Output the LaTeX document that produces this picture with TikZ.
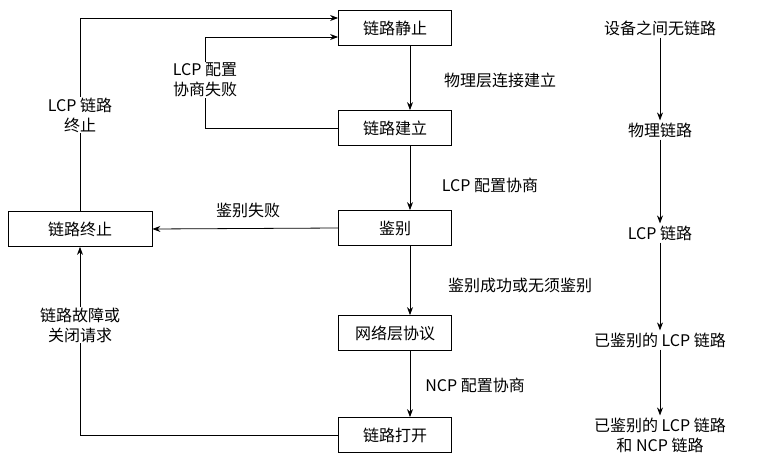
\documentclass[tikz,border=0pt]{standalone}
\usepackage{fontspec}
\setmainfont{Noto Sans CJK SC}
\usetikzlibrary{arrows.meta}
\begin{document}
\begin{tikzpicture}[x=1pt,y=-1pt,font=\fontsize{16}{20}\selectfont,
 box/.style={draw,minimum width=113pt,minimum height=35pt,inner sep=0pt,line width=0.8pt},
 lab/.style={align=center,inner sep=1pt},
 ar/.style={-{Stealth[length=8pt,width=6pt]},line width=0.8pt},
 st/.style={align=center,inner sep=2pt}]
\useasboundingbox (0,0) rectangle (757,468);
\node[box] (s) at (395,28) {链路静止};
\node[box] (e) at (395,128) {链路建立};
\node[box] (a) at (395,228) {鉴别};
\node[box] (n) at (395,333) {网络层协议};
\node[box] (o) at (395,435) {链路打开};
\node[box,minimum width=144pt] (t) at (80,229) {链路终止};
\draw[ar] ([xshift=15pt]s.south) -- ([xshift=15pt]e.north);
\draw[ar] ([xshift=15pt]e.south) -- ([xshift=15pt]a.north);
\draw[ar] ([xshift=15pt]a.south) -- ([xshift=15pt]n.north);
\draw[ar] ([xshift=15pt]n.south) -- ([xshift=15pt]o.north);
\node[lab] at (500,80) {物理层连接建立};
\node[lab] at (490,185) {LCP 配置协商};
\node[lab] at (520,285) {鉴别成功或无须鉴别};
\node[lab] at (475,385) {NCP 配置协商};
\draw[ar] (a.west) -- (t.east);
\node[lab] at (248,210) {鉴别失败};
\coordinate (c1) at (80,18);
\draw[ar] (t.north) -- (c1) -- (s.west|-c1);
\node[lab,fill=white] at (80,115) {LCP 链路\\终止};
\coordinate (c2) at (205,128);
\coordinate (c3) at (205,37);
\draw[ar] (e.west) -- (c2) -- (c3) -- (s.west|-c3);
\node[lab,fill=white] at (205,80) {LCP 配置\\协商失败};
\coordinate (c4) at (80,435);
\draw[ar] (o.west) -- (c4) -- (t.south);
\node[lab,fill=white] at (80,325) {链路故障或\\关闭请求};
\node[st] (r1) at (660,28) {设备之间无链路};
\node[st] (r2) at (660,130) {物理链路};
\node[st] (r3) at (660,233) {LCP 链路};
\node[st] (r4) at (660,340) {已鉴别的 LCP 链路};
\node[st] (r5) at (660,435) {已鉴别的 LCP 链路\\和 NCP 链路};
\draw[ar] (r1) -- (r2);
\draw[ar] (r2) -- (r3);
\draw[ar] (r3) -- (r4);
\draw[ar] (r4) -- (r5);
\end{tikzpicture}
\end{document}
